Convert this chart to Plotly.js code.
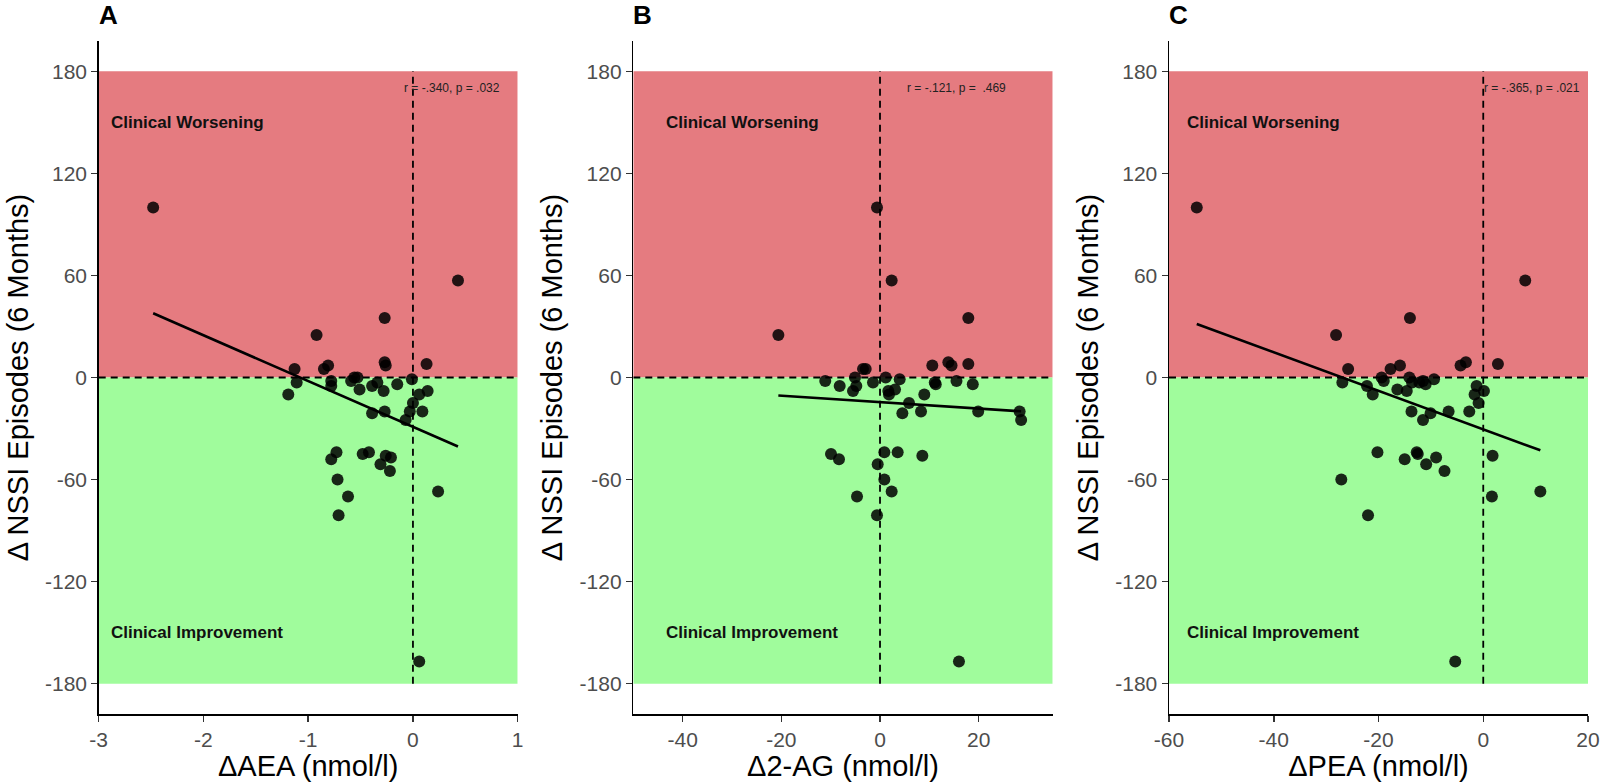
<!DOCTYPE html>
<html>
<head>
<meta charset="utf-8">
<script src="https://cdn.plot.ly/plotly-3.0.1.min.js"></script>
<style>
  html, body { margin: 0; padding: 0; background: #ffffff; }
  #chart { width: 1600px; height: 782px; }
</style>
</head>
<body>
<div id="chart"></div>
<script>
// ---- Data ----
const nssiTitle = 'Δ NSSI Episodes (6 Months)';

const aeaX = [-2.48, 0.43, -0.27, -0.92, -1.13, -0.85, -0.81, -0.27, -0.26, 0.13,
              -1.11, -1.19, -0.78, -0.78, -0.59, -0.56, -0.53, -0.51, -0.39, -0.34,
              -0.28, -0.15, -0.01, 0.06, 0.14, 0.00, -0.03, 0.09, -0.07, -0.39,
              -0.27, -0.73, -0.78, -0.48, -0.42, -0.26, -0.21, -0.31, -0.22, -0.72,
              -0.62, -0.71, 0.24, 0.06];
const aeaY = [100, 57, 35, 25, 5, 5, 7, 9, 7, 8,
              -3, -10, -2, -5, -2, 0, 0, -7, -5, -3,
              -8, -4, -1, -10, -8, -15, -20, -20, -25, -21,
              -20, -44, -48, -45, -44, -46, -47, -51, -55, -60,
              -70, -81, -67, -167];

const agX = [-0.61, 2.36, 17.9, -20.6, -3.44, -2.9, 10.6, 13.85, 14.5, 17.9,
             -11.1, -8.17, -5.07, -4.8, -5.47, -1.42, 1.15, 3.99, 1.69, 1.82,
             3.04, 11.1, 11.3, 15.5, 18.8, 8.98, 5.88, 4.53, 8.31, 19.9,
             28.3, 28.6, -9.93, -8.31, 0.88, 3.58, 8.58, -0.47, 0.88, 2.36,
             -4.66, -0.61, 16.0];
const agY = [100, 57, 35, 25, 5, 5, 7, 9, 7, 8,
             -2, -5, 0, -5, -8, -3, 0, -1, -8, -10,
             -7, -3, -4, -2, -4, -10, -15, -21, -20, -20,
             -20, -25, -45, -48, -44, -44, -46, -51, -60, -67,
             -70, -81, -167];

const peaX = [-54.7, 8.02, -14.0, -28.1, -25.8, -17.7, -15.9, -4.33, -3.31, 2.8,
              -26.9, -22.2, -21.1, -19.4, -19.0, -16.4, -14.6, -14.1, -13.6, -12.2,
              -11.5, -11.0, -9.4, -1.27, -1.65, 0.13, -0.89, -2.67, -6.62, -10.06,
              -11.5, -13.7, -20.2, -15.0, -12.7, -12.5, -10.9, -9.0, -7.4, -27.1,
              1.78, 1.65, 10.9, -22.0, -5.35];
const peaY = [100, 57, 35, 25, 5, 5, 7, 7, 9, 8,
              -3, -5, -10, 0, -2, -7, -8, 0, -3, -3,
              -2, -4, -1, -5, -10, -8, -15, -20, -20, -21,
              -25, -20, -44, -48, -44, -45, -51, -47, -55, -60,
              -46, -70, -67, -81, -167];

const yTickVals = [-180, -120, -60, 0, 60, 120, 180];
const yTickText = ['-180', '-120', '-60', '0', '60', '120', '180'];
const aeaTickVals = [-3, -2, -1, 0, 1];
const aeaTickText = ['-3', '-2', '-1', '0', '1'];
const agTickVals = [-40, -20, 0, 20];
const agTickText = ['-40', '-20', '0', '20'];
const peaTickVals = [-60, -40, -20, 0, 20];
const peaTickText = ['-60', '-40', '-20', '0', '20'];

const panelLetters = ['A', 'B', 'C'];
const xTitles = ['ΔAEA (nmol/l)', 'Δ2-AG (nmol/l)', 'ΔPEA (nmol/l)'];
const statTexts = ['r = -.340, p = .032', 'r = -.121, p =\u00A0 .469', 'r = -.365, p = .021'];
const worseLabel = 'Clinical Worsening';
const improveLabel = 'Clinical Improvement';

// ---- Layout settings ----
const W = 1600, H = 782;
const xRanges = [[-3, 1], [-50, 35], [-60, 20]];
const xDomains = [[98.7 / W, 517.7 / W], [633.3 / W, 1052.7 / W], [1169 / W, 1588 / W]];
const yRange = [-198, 198];
const yDomain = [1 - 714.3 / H, 1 - 40.7 / H];
const bandTop = 180, bandBottom = -180;
const statX = [-0.10, 5.07, -0.19];
const statY = 170;
const labelX = [-2.9, -43.8, -56.9];
const labelY = 150;

const redFill = '#E57B80';
const greenFill = '#A0FC9C';
const fontFam = '"Liberation Sans", Arial, Helvetica, sans-serif';

function fitLine(xs, ys) {
  const n = xs.length;
  let mx = 0, my = 0;
  for (let i = 0; i < n; i++) { mx += xs[i]; my += ys[i]; }
  mx /= n; my /= n;
  let sxy = 0, sxx = 0;
  for (let i = 0; i < n; i++) { sxy += (xs[i] - mx) * (ys[i] - my); sxx += (xs[i] - mx) ** 2; }
  const b = sxy / sxx, a = my - b * mx;
  const x0 = Math.min(...xs), x1 = Math.max(...xs);
  return { x: [x0, x1], y: [a + b * x0, a + b * x1] };
}

const datasets = [[aeaX, aeaY], [agX, agY], [peaX, peaY]];
const tickSets = [[aeaTickVals, aeaTickText], [agTickVals, agTickText], [peaTickVals, peaTickText]];

const traces = [];
const shapes = [];
const annotations = [];
const layout = {
  width: W, height: H,
  margin: { l: 0, r: 0, t: 0, b: 0 },
  paper_bgcolor: '#ffffff',
  plot_bgcolor: 'rgba(0,0,0,0)',
  showlegend: false,
  font: { family: fontFam, color: '#000' },
  shapes: shapes,
  annotations: annotations
};

datasets.forEach(([xs, ys], i) => {
  const sfx = i === 0 ? '' : String(i + 1);
  const xr = 'x' + sfx, yr = 'y' + sfx;

  layout['xaxis' + sfx] = {
    domain: xDomains[i], range: xRanges[i], anchor: yr,
    showgrid: false, zeroline: false, showline: true, linecolor: '#000', linewidth: 1.5,
    ticks: 'outside', ticklen: 6, tickwidth: 1.5, tickcolor: '#333',
    tickmode: 'array', tickvals: tickSets[i][0], ticktext: tickSets[i][1],
    tickfont: { size: 21, color: '#4D4D4D', family: fontFam },
    title: { text: xTitles[i], font: { size: 29, color: '#000', family: fontFam }, standoff: 6 },
    fixedrange: true
  };
  layout['yaxis' + sfx] = {
    domain: yDomain, range: yRange, anchor: xr,
    showgrid: false, zeroline: false, showline: true, linecolor: '#000', linewidth: 1.5,
    ticks: 'outside', ticklen: 6, tickwidth: 1.5, tickcolor: '#333',
    tickmode: 'array', tickvals: yTickVals, ticktext: yTickText,
    tickfont: { size: 21, color: '#4D4D4D', family: fontFam },
    title: { text: nssiTitle, font: { size: 29, color: '#000', family: fontFam }, standoff: 8 },
    fixedrange: true
  };

  // background bands
  shapes.push({ type: 'rect', xref: xr, yref: yr, x0: xRanges[i][0], x1: xRanges[i][1], y0: 0, y1: bandTop,
                fillcolor: redFill, line: { width: 0 }, layer: 'below' });
  shapes.push({ type: 'rect', xref: xr, yref: yr, x0: xRanges[i][0], x1: xRanges[i][1], y0: bandBottom, y1: 0,
                fillcolor: greenFill, line: { width: 0 }, layer: 'below' });
  // reference lines
  shapes.push({ type: 'line', xref: xr, yref: yr, x0: xRanges[i][0], x1: xRanges[i][1], y0: 0, y1: 0,
                line: { color: '#000', width: 1.8, dash: '7px,5px' }, layer: 'below' });
  shapes.push({ type: 'line', xref: xr, yref: yr, x0: 0, x1: 0, y0: bandBottom, y1: bandTop,
                line: { color: '#000', width: 1.8, dash: '7px,5px' }, layer: 'below' });

  // points
  traces.push({
    type: 'scatter', mode: 'markers', x: xs, y: ys, xaxis: xr, yaxis: yr,
    marker: { size: 12, color: 'rgba(0,0,0,0.85)', line: { width: 0 } },
    hoverinfo: 'x+y'
  });
  // regression line
  const fit = fitLine(xs, ys);
  traces.push({
    type: 'scatter', mode: 'lines', x: fit.x, y: fit.y, xaxis: xr, yaxis: yr,
    line: { color: '#000', width: 2.6 }, hoverinfo: 'skip'
  });

  // texts
  annotations.push({ xref: xr, yref: yr, x: statX[i], y: statY, text: statTexts[i], showarrow: false,
                     xanchor: 'left', yanchor: 'middle', font: { size: 12, color: '#222', family: fontFam } });
  annotations.push({ xref: xr, yref: yr, x: labelX[i], y: labelY, text: '<b>' + worseLabel + '</b>', showarrow: false,
                     xanchor: 'left', yanchor: 'middle', font: { size: 17, color: '#111', family: fontFam } });
  annotations.push({ xref: xr, yref: yr, x: labelX[i], y: -labelY, text: '<b>' + improveLabel + '</b>', showarrow: false,
                     xanchor: 'left', yanchor: 'middle', font: { size: 17, color: '#111', family: fontFam } });
  annotations.push({ xref: xr + ' domain', yref: 'paper', x: 0, y: 1 - 15 / H, text: '<b>' + panelLetters[i] + '</b>',
                     showarrow: false, xanchor: 'left', yanchor: 'middle', xshift: -2,
                     font: { size: 26, color: '#000', family: fontFam } });
});

Plotly.newPlot('chart', traces, layout, { displayModeBar: false, staticPlot: true });
</script>
</body>
</html>
